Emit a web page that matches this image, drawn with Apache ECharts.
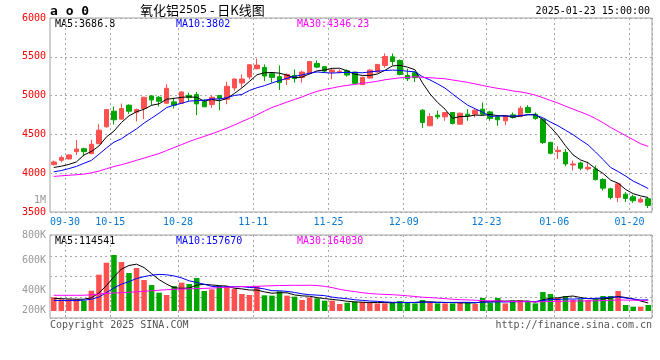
<!DOCTYPE html>
<html><head><meta charset="utf-8">
<script src="https://cdn.jsdelivr.net/npm/echarts@6/dist/echarts.min.js"></script>
<style>html,body{margin:0;padding:0;background:#fff}#c{width:660px;height:360px}</style>
</head><body><div id="c"></div>
<script>
// trading days shown (80 candles)
const dates = ["09-26","09-27","09-30","10-08","10-09","10-10","10-11","10-14","10-15","10-16","10-17","10-18","10-21","10-22","10-23","10-24","10-25","10-28","10-29","10-30","10-31","11-01","11-04","11-05","11-06","11-07","11-08","11-11","11-12","11-13","11-14","11-15","11-18","11-19","11-20","11-21","11-22","11-25","11-26","11-27","11-28","11-29","12-02","12-03","12-04","12-05","12-06","12-09","12-10","12-11","12-12","12-13","12-16","12-17","12-18","12-19","12-20","12-23","12-24","12-25","12-26","12-27","12-30","12-31","01-02","01-03","01-06","01-07","01-08","01-09","01-10","01-13","01-14","01-15","01-16","01-17","01-20","01-21","01-22","01-23"];
// x tick labels as printed on the chart, and the category slot where each one sits
const tickLabels = ["09-30","10-15","10-28","11-11","11-25","12-09","12-23","01-06","01-20"];
const tickSlots  = [2, 8, 17, 27, 37, 47, 58, 67, 77];
// y tick labels
const priceTicks = [3500, 4000, 4500, 5000, 5500, 6000];
const volTickLabels = ["200K","400K","600K","800K"];

const opens  = [4111,4167,4184,4278,4316,4252,4380,4598,4799,4697,4876,4786,4833,4996,4979,4902,4919,4902,5004,5013,4927,4884,5000,4953,5098,5162,5239,5346,5363,5282,5244,5209,5261,5235,5286,5414,5372,5303,5299,5320,5303,5141,5226,5303,5389,5500,5453,5261,5295,4812,4611,4748,4726,4782,4632,4760,4760,4825,4790,4726,4675,4752,4731,4846,4760,4696,4397,4278,4269,4106,4132,4055,4055,3918,3799,3688,3730,3696,3628,3671];
const closes = [4145,4201,4235,4312,4278,4372,4555,4820,4688,4833,4799,4820,4979,4944,4927,5094,4876,5047,4974,4893,4855,4979,4966,5120,5214,5214,5397,5393,5252,5235,5167,5273,5218,5303,5440,5367,5316,5329,5312,5265,5158,5235,5329,5402,5504,5440,5273,5218,5231,4654,4731,4726,4782,4641,4773,4739,4812,4760,4705,4688,4739,4718,4837,4782,4705,4397,4256,4295,4119,4119,4064,4077,3918,3807,3688,3863,3675,3645,3665,3585];
const lows   = [4098,4141,4175,4235,4218,4244,4376,4585,4628,4688,4765,4667,4697,4876,4859,4893,4833,4902,4932,4748,4855,4842,4812,4889,5060,5102,5209,5338,5188,5167,5073,5137,5167,5167,5273,5355,5295,5209,5286,5244,5149,5137,5218,5295,5359,5389,5261,5188,5175,4585,4607,4696,4675,4628,4620,4675,4718,4748,4675,4611,4619,4705,4722,4773,4688,4376,4243,4183,4089,4034,4038,4034,3906,3777,3662,3628,3628,3619,3619,3551];
const highs  = [4162,4226,4244,4427,4329,4431,4632,4825,4859,4897,4889,4833,4983,5004,4996,5145,4974,5056,5038,5047,4953,5004,5004,5179,5222,5273,5406,5479,5402,5295,5389,5286,5338,5320,5444,5453,5380,5359,5338,5338,5308,5244,5338,5402,5543,5543,5466,5346,5312,4825,4773,4808,4790,4790,4782,4825,4825,4910,4803,4748,4748,4782,4867,4876,4782,4705,4406,4346,4312,4162,4149,4149,4098,3935,3812,3871,3756,3722,3692,3679];

// moving-average lines as drawn on the chart
const ma5  = [4074,4090,4113,4145,4234,4280,4350,4467,4543,4654,4739,4792,4824,4875,4894,4953,4964,4978,4984,4977,4929,4950,4933,4963,5027,5099,5182,5268,5294,5298,5289,5264,5229,5239,5280,5320,5329,5351,5353,5318,5276,5260,5260,5278,5326,5382,5390,5367,5333,5163,5021,4912,4825,4707,4731,4732,4749,4745,4758,4741,4741,4722,4737,4753,4756,4688,4595,4487,4354,4237,4171,4135,4059,3997,3911,3871,3790,3736,3707,3686.8];
const ma10 = [4018,4034,4059,4087,4127,4165,4244,4325,4400,4444,4509,4571,4646,4709,4774,4846,4878,4901,4929,4935,4941,4957,4956,4973,5002,5014,5066,5101,5128,5163,5194,5223,5248,5267,5289,5305,5296,5290,5296,5299,5298,5294,5305,5315,5322,5329,5325,5314,5306,5244,5202,5151,5096,5020,4947,4877,4831,4785,4732,4736,4737,4736,4741,4755,4749,4714,4659,4612,4554,4497,4429,4365,4273,4176,4074,4021,3963,3898,3852,3802];
const ma30 = [3959,3966,3973,3980,3988,4005,4027,4057,4086,4110,4137,4166,4195,4224,4254,4292,4331,4369,4408,4442,4474,4508,4543,4580,4622,4665,4706,4752,4800,4847,4881,4917,4950,4983,5022,5055,5080,5097,5118,5132,5144,5158,5170,5185,5204,5216,5229,5235,5243,5235,5231,5223,5217,5201,5186,5170,5151,5130,5111,5093,5079,5060,5048,5030,5006,4973,4938,4904,4864,4826,4789,4751,4704,4650,4590,4537,4484,4432,4379,4346.23];

const volumes = [195000,167000,167000,167000,148000,290000,519000,690000,800000,700000,543000,614000,443000,371000,262000,229000,357000,405000,386000,471000,286000,310000,357000,357000,314000,243000,229000,357000,224000,219000,281000,219000,205000,157000,195000,181000,148000,148000,100000,119000,133000,129000,119000,109000,109000,124000,143000,124000,109000,157000,124000,109000,109000,109000,129000,129000,100000,186000,119000,186000,109000,129000,157000,129000,109000,271000,243000,186000,214000,157000,167000,157000,167000,214000,214000,286000,86000,62000,62000,86000];
const vma5  = [181000,176000,172000,168000,169000,188000,258000,363000,489000,600000,650000,669000,620000,534000,447000,384000,332000,325000,328000,370000,381000,372000,362000,356000,325000,316000,300000,300000,273000,254000,262000,260000,230000,216000,211000,191000,177000,166000,154000,139000,130000,126000,120000,122000,120000,118000,121000,122000,122000,131000,131000,125000,122000,122000,116000,117000,115000,131000,133000,144000,140000,146000,140000,142000,127000,159000,182000,188000,205000,214000,193000,176000,172000,172000,184000,208000,193000,172000,142000,114541];
const vma10 = [152000,150000,149000,148000,155000,167000,200000,262000,330000,384000,419000,464000,491000,512000,523000,517000,501000,472000,431000,408000,382000,352000,343000,342000,347000,349000,336000,331000,315000,290000,289000,280000,265000,245000,233000,227000,219000,198000,185000,175000,161000,152000,143000,138000,130000,124000,123000,121000,122000,126000,125000,123000,122000,122000,124000,124000,120000,126000,127000,130000,129000,131000,135000,137000,135000,150000,164000,164000,173000,170000,176000,179000,180000,189000,199000,201000,185000,172000,157000,157670];
const vma30 = [224000,224000,224000,224000,225000,232000,242000,251000,257000,262000,268000,274000,281000,289000,297000,304000,310000,313000,316000,320000,323000,328000,333000,338000,343000,348000,350000,353000,357000,361000,364000,365000,367000,366000,368000,364000,352000,334000,310000,291000,277000,261000,250000,242000,237000,233000,226000,217000,207000,197000,191000,185000,176000,168000,162000,158000,154000,148000,145000,144000,138000,135000,133000,132000,130000,133000,136000,137000,141000,142000,143000,144000,146000,149000,153000,158000,156000,154000,153000,150000];

const UP = '#ff5050', DOWN = '#00a600';
const MONO = 'DejaVu Sans Mono';
const candleData = dates.map((d,i)=>[opens[i],closes[i],lows[i],highs[i]]);
const volData = volumes.map((v,i)=>({value:v, itemStyle:{color: closes[i]>=opens[i]?UP:DOWN}}));
const isTick = (idx)=> tickSlots.indexOf(idx) >= 0;
const dotted = {type:[2,3], color:'#a8a8a8', width:1};

const chart = echarts.init(document.getElementById('c'), null, {renderer:'canvas'});
chart.setOption({
  animation:false,
  backgroundColor:'#fff',
  grid:[
    {left:50, top:18, width:602, height:194, show:true, borderColor:'#a0a0a0', borderWidth:1},
    {left:50, top:235, width:602, height:83, show:true, borderColor:'#a0a0a0', borderWidth:1}
  ],
  xAxis:[
    {type:'category', gridIndex:0, data:dates, boundaryGap:true,
     axisLine:{show:false}, axisTick:{show:false},
     axisLabel:{interval:(idx)=>isTick(idx), formatter:(v,idx)=>tickLabels[tickSlots.indexOf(idx)],
       color:'#0a78d0', fontFamily:MONO, fontSize:10, margin:5, padding:[0,7.5,0,0]},
     splitLine:{show:true, interval:(idx)=>isTick(idx), lineStyle:dotted}},
    {type:'category', gridIndex:1, data:dates, boundaryGap:true,
     axisLine:{show:false}, axisLabel:{show:false},
     axisTick:{show:true, interval:(idx)=>isTick(idx), length:6, lineStyle:dotted},
     splitLine:{show:true, interval:(idx)=>isTick(idx), lineStyle:dotted}}
  ],
  yAxis:[
    {type:'value', gridIndex:0, min:priceTicks[0], max:priceTicks[priceTicks.length-1], interval:500, position:'left',
     axisLine:{show:false}, axisTick:{show:false},
     axisLabel:{color:'#ff0000', fontFamily:MONO, fontSize:10, margin:4, formatter:(v)=>String(v)},
     splitLine:{show:true, lineStyle:dotted}},
    {type:'value', gridIndex:1, min:-100000, max:1085714, interval:296428.5, position:'right',
     axisLine:{show:false}, axisTick:{show:false}, axisLabel:{show:false},
     splitLine:{show:true, lineStyle:dotted}},
    {type:'value', gridIndex:1, min:213333, max:766667, position:'left',
     axisLine:{show:false}, axisTick:{show:false}, splitLine:{show:false},
     axisLabel:{color:'#999999', fontFamily:MONO, fontSize:10, margin:4,
       customValues:[266667,400000,600000,766667],
       formatter:(v)=>volTickLabels[Math.round(v/200000)-1]}}
  ],
  series:[
    {type:'candlestick', xAxisIndex:0, yAxisIndex:0, data:candleData, barWidth:5,
     itemStyle:{color:UP, color0:DOWN, borderColor:UP, borderColor0:DOWN, borderWidth:1}},
    {type:'line', xAxisIndex:0, yAxisIndex:0, data:ma5, symbol:'none', lineStyle:{color:'#000', width:1}, z:5},
    {type:'line', xAxisIndex:0, yAxisIndex:0, data:ma10, symbol:'none', lineStyle:{color:'#0000ff', width:1}, z:5},
    {type:'line', xAxisIndex:0, yAxisIndex:0, data:ma30, symbol:'none', lineStyle:{color:'#ff00ff', width:1}, z:5},
    {type:'bar', xAxisIndex:1, yAxisIndex:1, data:volData, barWidth:5.5},
    {type:'line', xAxisIndex:1, yAxisIndex:1, data:vma5, symbol:'none', lineStyle:{color:'#000', width:1}, z:5},
    {type:'line', xAxisIndex:1, yAxisIndex:1, data:vma10, symbol:'none', lineStyle:{color:'#0000ff', width:1}, z:5},
    {type:'line', xAxisIndex:1, yAxisIndex:1, data:vma30, symbol:'none', lineStyle:{color:'#ff00ff', width:1}, z:5}
  ],
  graphic:[
    {type:'text', left:50, top:5, style:{text:'a o 0', font:'bold 13px "DejaVu Sans Mono"', fill:'#000'}},
    {type:'text', left:140, top:4, style:{text:'{a|氧化铝}{b|2505}{a| - 日K线图}',
      rich:{a:{fontFamily:'Noto Sans CJK SC', fontSize:13, fill:'#000', color:'#000'}, b:{fontFamily:'DejaVu Sans', fontSize:11, color:'#555'}}}},
    {type:'text', right:10, top:6, style:{text:'2025-01-23 15:00:00', font:'10px "DejaVu Sans Mono"', fill:'#000'}},
    {type:'text', left:55, top:19, style:{text:'MA5:3686.8', font:'10px "DejaVu Sans Mono"', fill:'#000'}},
    {type:'text', left:176, top:19, style:{text:'MA10:3802', font:'10px "DejaVu Sans Mono"', fill:'#0000ff'}},
    {type:'text', left:297, top:19, style:{text:'MA30:4346.23', font:'10px "DejaVu Sans Mono"', fill:'#ff00ff'}},
    {type:'text', left:55, top:236, style:{text:'MA5:114541', font:'10px "DejaVu Sans Mono"', fill:'#000'}},
    {type:'text', left:176, top:236, style:{text:'MA10:157670', font:'10px "DejaVu Sans Mono"', fill:'#0000ff'}},
    {type:'text', left:297, top:236, style:{text:'MA30:164030', font:'10px "DejaVu Sans Mono"', fill:'#ff00ff'}},
    {type:'text', left:34, top:195, style:{text:'1M', font:'10px "DejaVu Sans Mono"', fill:'#999999'}},
    {type:'text', left:50, top:320, style:{text:'Copyright 2025 SINA.COM', font:'10px "DejaVu Sans Mono"', fill:'#555'}},
    {type:'text', right:8, top:320, style:{text:'http://finance.sina.com.cn', font:'10px "DejaVu Sans Mono"', fill:'#555'}}
  ]
});
</script></body></html>
